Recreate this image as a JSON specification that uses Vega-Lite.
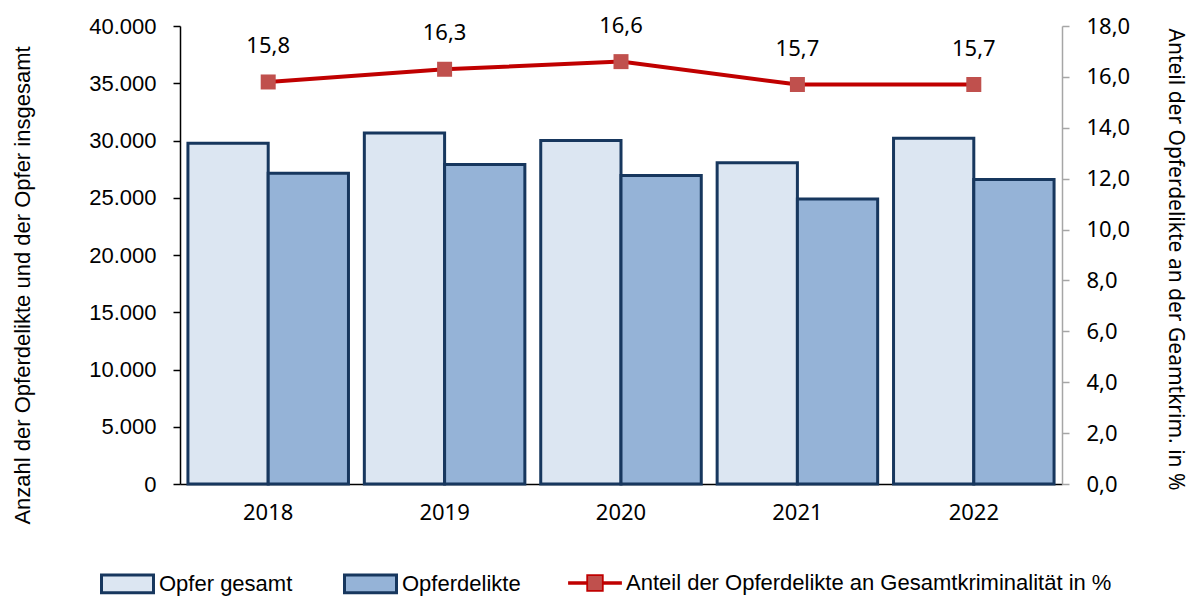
{
  "$schema": "https://vega.github.io/schema/vega-lite/v6.json",
  "width": 882,
  "height": 458,
  "autosize": "none",
  "padding": {"left": 180, "top": 26, "right": 128, "bottom": 112},
  "background": "white",
  "datasets": {
    "bars": [
      {"year": "2018", "series": "Opfer gesamt", "value": 29750},
      {"year": "2018", "series": "Opferdelikte", "value": 27150},
      {"year": "2019", "series": "Opfer gesamt", "value": 30650},
      {"year": "2019", "series": "Opferdelikte", "value": 27900},
      {"year": "2020", "series": "Opfer gesamt", "value": 30000},
      {"year": "2020", "series": "Opferdelikte", "value": 26950},
      {"year": "2021", "series": "Opfer gesamt", "value": 28050},
      {"year": "2021", "series": "Opferdelikte", "value": 24900},
      {"year": "2022", "series": "Opfer gesamt", "value": 30200},
      {"year": "2022", "series": "Opferdelikte", "value": 26600}
    ],
    "line": [
      {"year": "2018", "series": "Anteil der Opferdelikte an Gesamtkriminalität in %", "anteil": 15.8},
      {"year": "2019", "series": "Anteil der Opferdelikte an Gesamtkriminalität in %", "anteil": 16.3},
      {"year": "2020", "series": "Anteil der Opferdelikte an Gesamtkriminalität in %", "anteil": 16.6},
      {"year": "2021", "series": "Anteil der Opferdelikte an Gesamtkriminalität in %", "anteil": 15.7},
      {"year": "2022", "series": "Anteil der Opferdelikte an Gesamtkriminalität in %", "anteil": 15.7}
    ]
  },
  "encoding": {
    "x": {
      "field": "year",
      "type": "nominal",
      "scale": {"paddingInner": 0.09, "paddingOuter": 0.045},
      "axis": {
        "title": null,
        "labelAngle": 0,
        "ticks": false,
        "domainColor": "#000000",
        "domainWidth": 1.5,
        "labelFont": "Noto Sans",
        "labelFontSize": 22,
        "labelColor": "#000000",
        "labelPadding": 18
      }
    }
  },
  "layer": [
    {
      "data": {"name": "bars"},
      "mark": {"type": "bar", "stroke": "#17375e", "strokeWidth": 3, "opacity": 1},
      "encoding": {
        "xOffset": {
          "field": "series",
          "type": "nominal",
          "scale": {"domain": ["Opfer gesamt", "Opferdelikte"], "paddingInner": 0, "paddingOuter": 0}
        },
        "y": {
          "field": "value",
          "type": "quantitative",
          "scale": {"domain": [0, 40000], "nice": false},
          "axis": {
            "title": "Anzahl der Opferdelikte und der Opfer insgesamt",
            "values": [0, 5000, 10000, 15000, 20000, 25000, 30000, 35000, 40000],
            "format": ",.0f",
            "grid": false,
            "domainColor": "#000000",
            "domainWidth": 1.5,
            "tickColor": "#000000",
            "tickWidth": 1.5,
            "tickSize": 7,
            "labelFont": "Liberation Sans",
            "labelFontSize": 22,
            "labelColor": "#000000",
            "labelPadding": 17,
            "titleFont": "Liberation Sans",
            "titleFontSize": 22,
            "titleFontWeight": "normal",
            "titleColor": "#000000",
            "titleX": -158,
            "titleY": 259,
            "titleBaseline": "middle"
          }
        },
        "color": {
          "field": "series",
          "type": "nominal",
          "scale": {
            "domain": ["Opfer gesamt", "Opferdelikte"],
            "range": ["#dce6f2", "#95b3d7"]
          },
          "legend": {
            "orient": "none",
            "legendX": -80,
            "legendY": 530,
            "direction": "horizontal",
            "title": null,
            "padding": 0,
            "labelFont": "Liberation Sans",
            "labelFontSize": 22,
            "labelColor": "#000000",
            "labelOffset": 4,
            "labelLimit": 1000,
            "symbolSize": 2704,
            "symbolType": "M-1,-0.34L1,-0.34L1,0.34L-1,0.34Z",
            "symbolStrokeColor": "#17375e",
            "symbolStrokeWidth": 3,
            "symbolOpacity": 1,
            "columnPadding": 45
          }
        }
      }
    },
    {
      "data": {"name": "line"},
      "layer": [
        {
          "mark": {"type": "line", "strokeWidth": 4, "color": "#c00000"},
          "encoding": {
            "y": {
              "field": "anteil",
              "type": "quantitative",
              "scale": {"domain": [0, 18], "nice": false},
              "axis": {
                "orient": "right",
                "title": "Anteil der Opferdelikte an der Geamtkrim. in %",
                "values": [0, 2, 4, 6, 8, 10, 12, 14, 16, 18],
                "format": ".1f",
                "grid": false,
                "domainColor": "#a6a6a6",
                "domainWidth": 1.5,
                "tickColor": "#a6a6a6",
                "tickWidth": 1.5,
                "tickSize": 7,
                "labelFont": "Noto Sans",
                "labelFontSize": 22,
                "labelColor": "#000000",
                "labelPadding": 17,
                "titleFont": "Noto Sans",
                "titleFontSize": 21,
                "titleFontWeight": "normal",
                "titleColor": "#000000",
                "titleX": 112,
                "titleY": 233,
                "titleBaseline": "middle"
              }
            }
          }
        },
        {
          "mark": {"type": "point", "shape": "square", "size": 225, "filled": true, "opacity": 1},
          "encoding": {
            "y": {"field": "anteil", "type": "quantitative"},
            "color": {
              "field": "series",
              "type": "nominal",
              "scale": {"range": ["#c0504d"]},
              "legend": {
                "orient": "none",
                "legendX": 388,
                "legendY": 530,
                "direction": "horizontal",
                "title": null,
                "padding": 0,
                "labelFont": "Liberation Sans",
                "labelFontSize": 22,
                "labelColor": "#000000",
                "labelOffset": 4,
                "labelLimit": 1000,
                "symbolSize": 2704,
                "symbolType": "M-1,-0.035L-0.3,-0.035L-0.3,-0.3L0.3,-0.3L0.3,-0.035L1,-0.035L1,0.035L0.3,0.035L0.3,0.3L-0.3,0.3L-0.3,0.035L-1,0.035Z",
                "symbolStrokeColor": "#c00000",
                "symbolStrokeWidth": 1.8,
                "symbolOpacity": 1
              }
            }
          }
        },
        {
          "mark": {"type": "text", "dy": -36, "font": "Noto Sans", "fontSize": 22, "color": "#000000"},
          "encoding": {
            "y": {"field": "anteil", "type": "quantitative"},
            "text": {"field": "anteil", "type": "quantitative", "format": ".1f"}
          }
        }
      ]
    }
  ],
  "resolve": {"scale": {"y": "independent", "color": "independent"}},
  "config": {
    "view": {"stroke": null},
    "locale": {
      "number": {"decimal": ",", "thousands": ".", "grouping": [3], "currency": ["", " €"]}
    }
  }
}
